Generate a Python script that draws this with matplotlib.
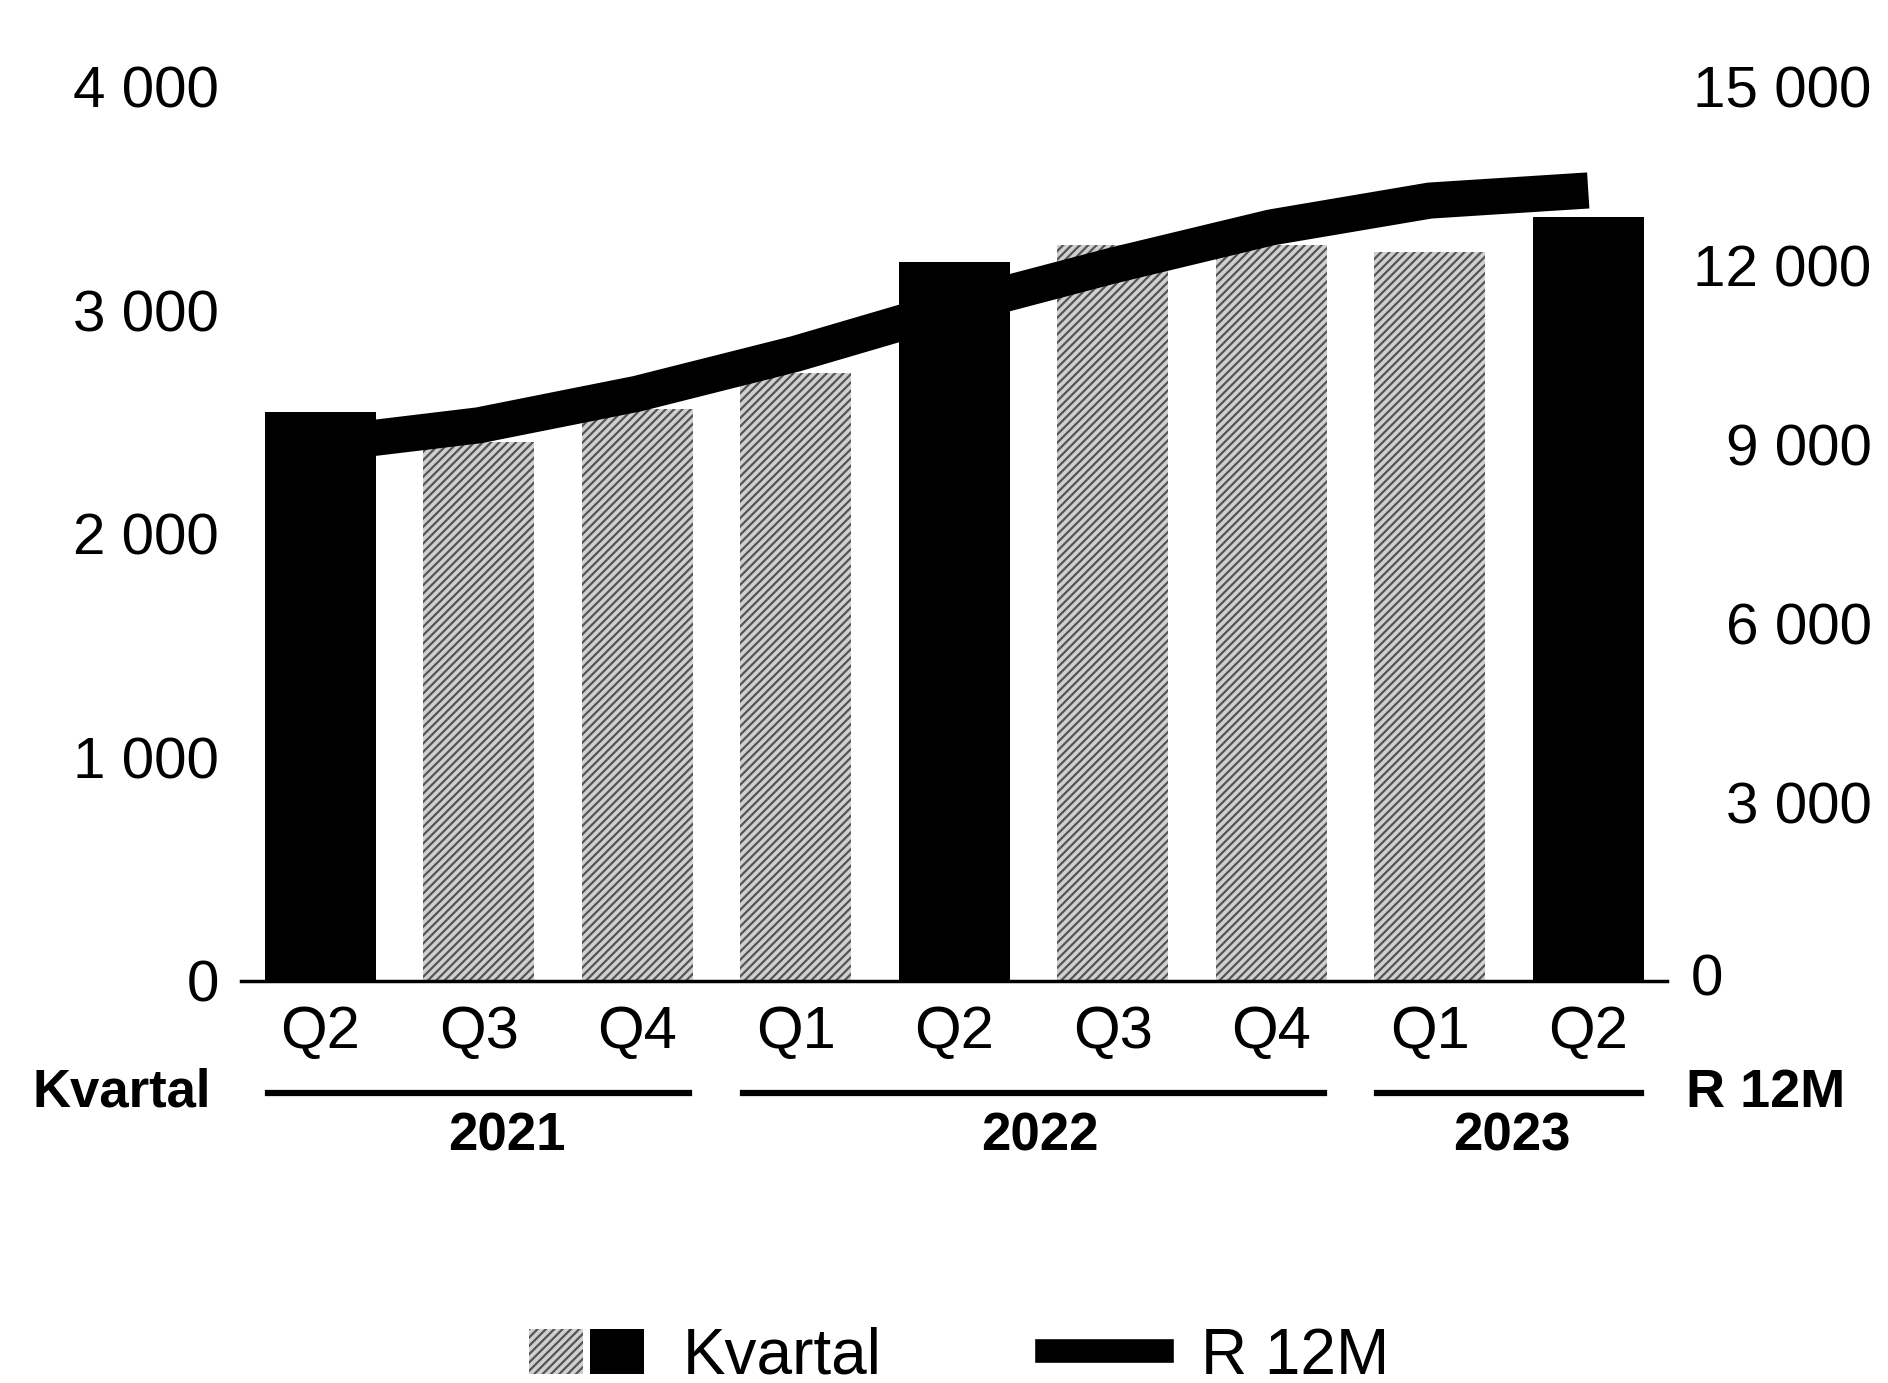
import matplotlib
matplotlib.use("Agg")
import matplotlib.pyplot as plt
from matplotlib.patches import Patch
from matplotlib.lines import Line2D
from matplotlib.legend_handler import HandlerTuple

plt.rcParams['font.family'] = ['Liberation Sans', 'DejaVu Sans']
plt.rcParams['hatch.linewidth'] = 1.6

quarters = ["Q2", "Q3", "Q4", "Q1", "Q2", "Q3", "Q4", "Q1", "Q2"]
years = ["2021", "2022", "2023"]
year_spans = [(0, 2), (3, 6), (7, 8)]
year_label_pos = [1.18, 4.54, 7.52]
kvartal = [2545, 2410, 2560, 2720, 3218, 3290, 3290, 3260, 3418]
r12m = [9000, 9320, 9850, 10520, 11300, 12000, 12640, 13090, 13260]
highlight = [True, False, False, False, True, False, False, False, True]
left_ticks = [0, 1000, 2000, 3000, 4000]
right_ticks = [3000, 6000, 9000, 12000, 15000]

def fmt(v):
    return f"{v:,}".replace(",", " ")

fig = plt.figure(figsize=(18.88, 13.83), dpi=100)
ax = fig.add_axes([0.1276, 0.2907, 0.7556, 0.6466])
ax2 = ax.twinx()

x = list(range(len(quarters)))
width = 0.70

for xi, v, h in zip(x, kvartal, highlight):
    if not h:
        ax.bar(xi, v, width=width, facecolor='#d0d0d0', edgecolor='#555555',
               linewidth=0, hatch='////', zorder=1)

ax2.plot(x, r12m, color='black', linewidth=26, solid_capstyle='butt', zorder=2)

ax3 = fig.add_axes(ax.get_position(), sharex=ax)
ax3.patch.set_visible(False)
for xi, v, h in zip(x, kvartal, highlight):
    if h:
        ax3.bar(xi, v, width=width, color='black', zorder=3)
ax3.set_ylim(0, 4000)
ax3.axis('off')

ax.set_xlim(-0.5, 8.5)
ax.set_ylim(0, 4000)
ax2.set_ylim(0, 15000)

for a in (ax, ax2):
    for s in ['top', 'left', 'right']:
        a.spines[s].set_visible(False)
ax2.spines['bottom'].set_visible(False)
ax.spines['bottom'].set_linewidth(2.5)

ax.set_yticks(left_ticks)
ax.set_yticklabels([fmt(v) for v in left_ticks], fontsize=42)
ax.tick_params(axis='y', length=0, pad=16)

ax2.set_yticks(right_ticks)
ax2.set_yticklabels([fmt(v) for v in right_ticks], fontsize=42, ha='right')
ax2.tick_params(axis='y', length=0, pad=147)
ax.text(1.0165, 0.0, "0", transform=ax.transAxes, fontsize=42, ha='left', va='center')

ax.set_xticks(x)
ax.set_xticklabels(quarters, fontsize=43)
ax.tick_params(axis='x', length=0, pad=17)

tr = ax.get_xaxis_transform()
for (s, e), yr, px in zip(year_spans, years, year_label_pos):
    ax.plot([s - 0.33, e + 0.33], [-0.125, -0.125], color='black', lw=4.5,
            transform=tr, clip_on=False)
    ax.text(px, -0.174, yr, transform=tr, fontsize=38, fontweight='bold',
            ha='center', va='center')

ax.text(-0.021, -0.125, "Kvartal", transform=ax.transAxes, fontsize=38,
        fontweight='bold', ha='right', va='center')
ax.text(1.013, -0.125, "R 12M", transform=ax.transAxes, fontsize=39,
        fontweight='bold', ha='left', va='center')

h_st = Patch(facecolor='#d0d0d0', edgecolor='#555555', linewidth=0, hatch='////')
h_bk = Patch(facecolor='black')
h_ln = Line2D([0], [0], color='black', lw=17)
fig.legend([(h_st, h_bk), h_ln], ["Kvartal", "R 12M"],
           handler_map={tuple: HandlerTuple(ndivide=None, pad=0.1)},
           loc='center', bbox_to_anchor=(0.508, 0.019), ncol=2, frameon=False,
           fontsize=46, handlelength=1.8, handletextpad=0.6, columnspacing=2.6)

fig.savefig("out.png", dpi=100, facecolor='white')
